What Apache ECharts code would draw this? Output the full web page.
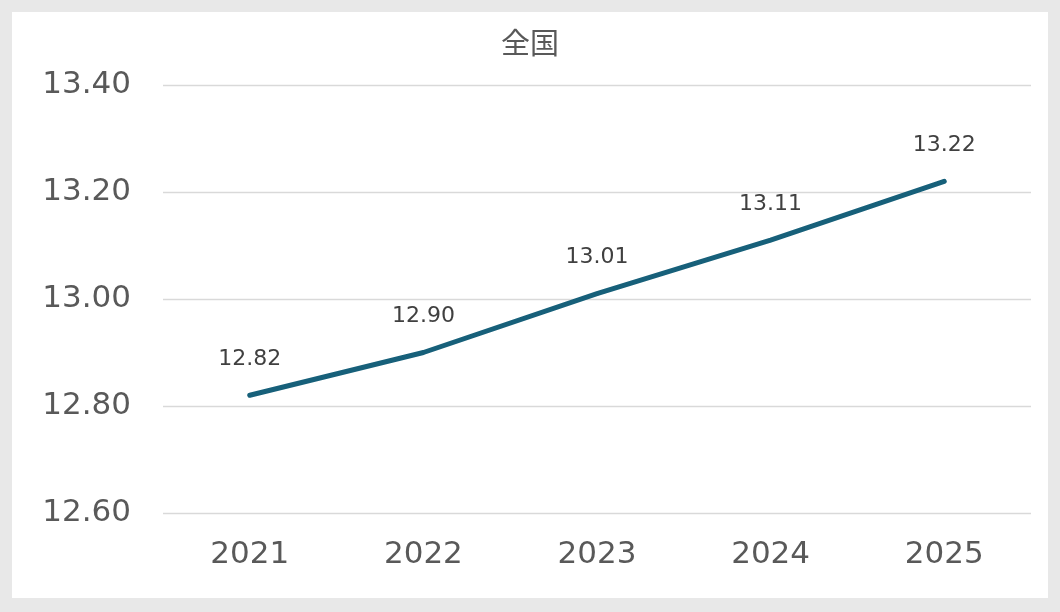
<!DOCTYPE html>
<html><head><meta charset="utf-8">
<script src="https://cdn.jsdelivr.net/npm/echarts@6/dist/echarts.min.js"></script>
<style>
html,body{margin:0;padding:0;background:#e8e8e8;}
#wrap{position:absolute;left:12px;top:12px;width:1036px;height:586px;background:#fff;}
#c{width:1036px;height:586px;}
</style></head>
<body><div id="wrap"><div id="c"></div></div>
<script>
const categories = ['2021','2022','2023','2024','2025'];
const values = [12.82, 12.90, 13.01, 13.11, 13.22];
const titleText = '全国';
const yMin = 12.6, yMax = 13.4, yInterval = 0.2;

const chart = echarts.init(document.getElementById('c'));
chart.setOption({
  animation: false,
  textStyle: {fontFamily: 'DejaVu Sans, Noto Sans CJK JP'},
  title: {text: titleText, left: 'center', top: 11,
    textStyle: {fontSize: 29, fontWeight: 'normal', color: '#595959', fontFamily: 'Noto Sans CJK JP'}},
  grid: {left: 151, right: 17, top: 73, bottom: 85},
  xAxis: {type: 'category', data: categories, boundaryGap: true,
    axisLine: {show: false}, axisTick: {show: false},
    axisLabel: {fontSize: 31, color: '#595959', margin: 26}},
  yAxis: {type: 'value', min: yMin, max: yMax, interval: yInterval,
    axisLine: {show: false}, axisTick: {show: false},
    splitLine: {lineStyle: {color: '#d9d9d9', width: 1.3}},
    axisLabel: {fontSize: 31, color: '#595959', margin: 32, formatter: v => v.toFixed(2)}},
  series: [{type: 'line', data: values, showSymbol: true, symbol: 'circle', symbolSize: 4,
    itemStyle: {color: '#17607a'},
    lineStyle: {color: '#17607a', width: 5, cap: 'round'},
    label: {show: true, position: 'top', distance: 23, fontSize: 22, color: '#404040',
      formatter: p => p.value.toFixed(2)}}]
});
</script></body></html>
